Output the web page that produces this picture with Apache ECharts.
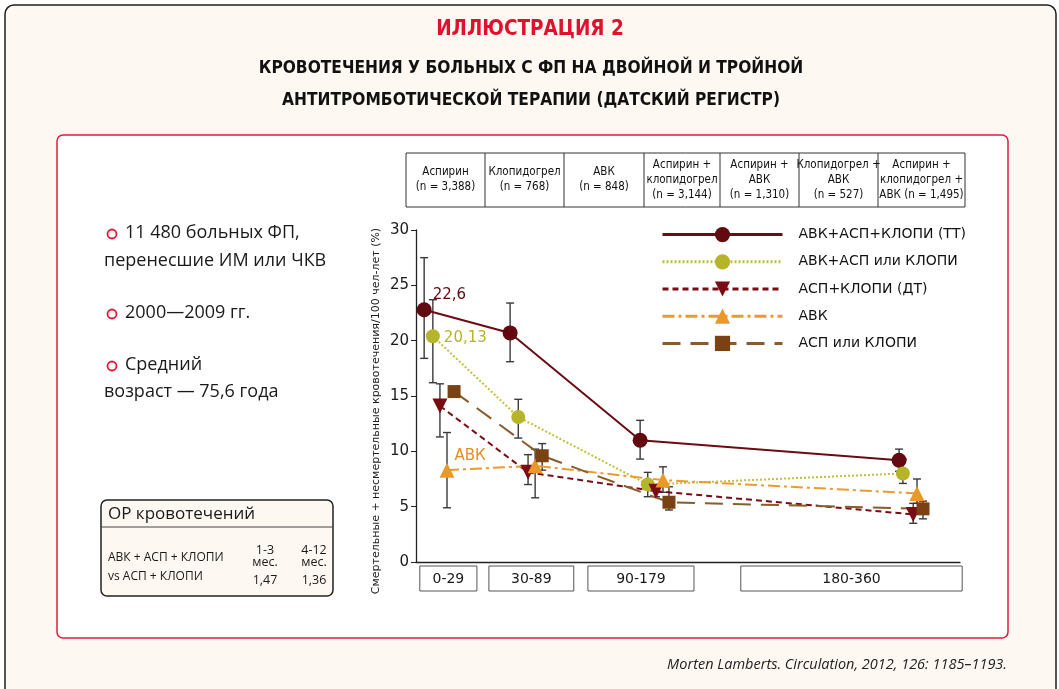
<!DOCTYPE html>
<html><head><meta charset="utf-8">
<script src="https://cdn.jsdelivr.net/npm/echarts@6/dist/echarts.min.js"></script>
<style>html,body{margin:0;padding:0;background:#fff;}#c{width:1059px;height:689px;}</style>
</head><body><div id="c"></div>
<script>
// ---- data ----
const seriesNames = ['АВК+АСП+КЛОПИ (ТТ)', 'АВК+АСП или КЛОПИ', 'АСП+КЛОПИ (ДТ)', 'АВК', 'АСП или КЛОПИ'];
const periods = ['0-29', '30-89', '90-179', '180-360'];
const periodStart = [0.7, 13.4, 31.6, 59.7];
const periodEnd = [11.2, 29.0, 51.1, 100.4];
const yTicks = [0, 5, 10, 15, 20, 25, 30];

// x position (relative units along time axis) and values
const xTT = [1.5, 17.3, 41.2, 88.8];
const vTT = [22.8, 20.7, 11.0, 9.2];
const hiTT = [27.5, 23.4, 12.8, 10.2];
const loTT = [18.4, 18.1, 9.3, 8.2];
const lblTT = ['22,6', '', '', ''];

const xOL = [3.1, 18.8, 42.6, 89.5];
const vOL = [20.4, 13.1, 7.0, 8.0];
const hiOL = [23.7, 14.7, 8.1, 9.3];
const loOL = [16.2, 11.2, 5.9, 7.1];
const lblOL = ['20,13', '', '', ''];

const xDT = [4.4, 20.6, 44.1, 91.4];
const vDT = [14.1, 8.1, 6.4, 4.3];
const hiDT = [16.1, 9.7, 6.9, 5.3];
const loDT = [11.3, 7.0, 5.9, 3.5];
const lblDT = ['', '', '', ''];

const xAV = [5.7, 21.9, 45.4, 92.1];
const vAV = [8.3, 8.7, 7.4, 6.2];
const hiAV = [11.7, 10.2, 8.6, 7.5];
const loAV = [4.9, 5.8, 6.3, 5.3];
const lblAV = ['АВК', '', '', ''];

const xSQ = [7.0, 23.2, 46.5, 93.2];
const vSQ = [15.4, 9.6, 5.4, 4.8];
const hiSQ = [null, 10.7, 6.8, 5.5];
const loSQ = [null, 8.3, 4.7, 3.9];
const lblSQ = ['', '', '', ''];

const tableHeads = [
  ['Аспирин', '(n = 3,388)'],
  ['Клопидогрел', '(n = 768)'],
  ['АВК', '(n = 848)'],
  ['Аспирин +', 'клопидогрел', '(n = 3,144)'],
  ['Аспирин +', 'АВК', '(n = 1,310)'],
  ['Клопидогрел +', 'АВК', '(n = 527)'],
  ['Аспирин +', 'клопидогрел +', 'АВК (n = 1,495)']
];

// ---- styles ----
const FONT = '"DejaVu Sans", Verdana, sans-serif';
const SANS = '"Open Sans", "Noto Sans", sans-serif';
const NARROW = '"Liberation Sans Narrow", "DejaVu Sans Condensed", sans-serif';
const markerColors = ['#620a0f', '#b6b42a', '#7a0c14', '#ea982a', '#7a4212'];
const lineColors = ['#6a0c12', '#c0c03a', '#7a0c14', '#ea9a2e', '#8c5a2c'];
const lineTypes = ['solid', [2, 2], [6, 4], [12, 4, 3, 4], [18, 10]];
const symbols = ['circle', 'circle', 'triangle', 'triangle', 'rect'];
const symRot = [0, 0, 180, 0, 0];
const symSize = [15, 14, 15, 15, 13];
const labelOffsets = [[-4, -15], [-1, 2], [0, 0], [-5, -14], [0, 0]];

const groups = [
  [xTT, vTT, hiTT, loTT, lblTT],
  [xOL, vOL, hiOL, loOL, lblOL],
  [xDT, vDT, hiDT, loDT, lblDT],
  [xAV, vAV, hiAV, loAV, lblAV],
  [xSQ, vSQ, hiSQ, loSQ, lblSQ]
];

const series = [];
groups.forEach((g, si) => {
  const [xs, vs, his, los, lbls] = g;
  series.push({
    type: 'custom', name: seriesNames[si] + '_err', z: 1, silent: true, clip: false,
    data: xs.map((x, i) => [x, los[i], his[i]]).filter(d => d[1] != null),
    renderItem: function (params, api) {
      const top = api.coord([api.value(0), api.value(2)]);
      const bot = api.coord([api.value(0), api.value(1)]);
      const w = 4;
      const st = { stroke: '#3a3a3a', lineWidth: 1.4 };
      return { type: 'group', children: [
        { type: 'line', shape: { x1: top[0], y1: top[1], x2: bot[0], y2: bot[1] }, style: st },
        { type: 'line', shape: { x1: top[0] - w, y1: top[1], x2: top[0] + w, y2: top[1] }, style: st },
        { type: 'line', shape: { x1: bot[0] - w, y1: bot[1], x2: bot[0] + w, y2: bot[1] }, style: st }
      ]};
    }
  });
  series.push({
    type: 'line', name: seriesNames[si], z: 3,
    symbol: symbols[si], symbolSize: symSize[si], symbolRotate: symRot[si],
    itemStyle: { color: markerColors[si] },
    lineStyle: { color: lineColors[si], width: 2, type: lineTypes[si] },
    data: xs.map((x, i) => {
      const d = { value: [x, vs[i]] };
      if (lbls[i]) {
        d.label = { show: true, formatter: lbls[i], position: 'right', offset: labelOffsets[si],
          color: si === 3 ? '#ea8c1c' : markerColors[si], fontSize: 15, fontFamily: FONT };
      }
      return d;
    })
  });
});

// period boxes under axis
series.push({
  type: 'custom', name: 'periods', silent: true, clip: false, z: 1,
  data: periodStart.map((s, i) => [s, periodEnd[i], i]),
  renderItem: function (params, api) {
    const a = api.coord([api.value(0), 0]);
    const b = api.coord([api.value(1), 0]);
    const y = a[1] + 4;
    const h = 25;
    return { type: 'group', children: [
      { type: 'rect', shape: { x: a[0], y: y, width: b[0] - a[0], height: h },
        style: { fill: '#fff', stroke: '#555', lineWidth: 1 } },
      { type: 'text', style: { text: periods[api.value(2)], x: (a[0] + b[0]) / 2, y: y + h / 2 + 1,
        align: 'center', verticalAlign: 'middle', textAlign: 'center', textVerticalAlign: 'middle',
        fill: '#1a1a1a', fontSize: 14, fontFamily: FONT } }
    ]};
  }
});

// ---- graphic (frame, titles, side text, table) ----
const graphics = [];
graphics.push({ type: 'rect', z: -20, shape: { x: 5, y: 5, width: 1051, height: 720, r: 9 },
  style: { fill: '#fdf8f2', stroke: '#1e1e1e', lineWidth: 1.5 } });
graphics.push({ type: 'rect', z: -19, shape: { x: 57, y: 135, width: 951, height: 503, r: 6 },
  style: { fill: '#ffffff', stroke: '#e4183c', lineWidth: 1.5 } });
function txt(text, x, y, opts) {
  graphics.push(Object.assign({ type: 'text', z: 5 }, {
    style: Object.assign({ text: text, x: x, y: y, fill: '#1a1a1a', align: 'left', verticalAlign: 'middle',
      textAlign: 'left', textVerticalAlign: 'middle', fontSize: 14, fontFamily: SANS }, opts)
  }));
}
txt('ИЛЛЮСТРАЦИЯ 2', 530, 30, { align: 'center', textAlign: 'center', fill: '#e0102e', fontSize: 20.5, fontWeight: 'bold', fontFamily: NARROW });
txt('КРОВОТЕЧЕНИЯ У БОЛЬНЫХ С ФП НА ДВОЙНОЙ И ТРОЙНОЙ', 531, 69, { align: 'center', textAlign: 'center', fill: '#111', fontSize: 17.2, fontWeight: 'bold', fontFamily: NARROW });
txt('АНТИТРОМБОТИЧЕСКОЙ ТЕРАПИИ (ДАТСКИЙ РЕГИСТР)', 531, 101, { align: 'center', textAlign: 'center', fill: '#111', fontSize: 17.2, fontWeight: 'bold', fontFamily: NARROW });

// left notes
[[233], [313], [365]].forEach(p => {
  graphics.push({ type: 'circle', z: 5, shape: { cx: 112, cy: p[0] + 1, r: 4.5 }, style: { fill: 'none', stroke: '#e4183c', lineWidth: 1.8 } });
});
txt('11 480 больных ФП,', 125, 233, { fontSize: 18 });
txt('перенесшие ИМ или ЧКВ', 104, 261, { fontSize: 18 });
txt('2000—2009 гг.', 125, 313, { fontSize: 18 });
txt('Средний', 125, 365, { fontSize: 18 });
txt('возраст — 75,6 года', 104, 392, { fontSize: 18 });

// OR box
graphics.push({ type: 'rect', z: 4, shape: { x: 101, y: 500, width: 232, height: 96, r: 6 },
  style: { fill: '#fdf8f2', stroke: '#222', lineWidth: 1.5 } });
graphics.push({ type: 'line', z: 5, shape: { x1: 101, y1: 527, x2: 333, y2: 527 }, style: { stroke: '#444', lineWidth: 1 } });
txt('ОР кровотечений', 108, 514, { fontSize: 17 });
txt('АВК + АСП + КЛОПИ', 108, 558, { fontSize: 12 });
txt('vs АСП + КЛОПИ', 108, 577, { fontSize: 12 });
txt('1-3', 265, 550, { fontSize: 12.5, align: 'center', textAlign: 'center' });
txt('мес.', 265, 562, { fontSize: 12.5, align: 'center', textAlign: 'center' });
txt('1,47', 265, 580, { fontSize: 12.5, align: 'center', textAlign: 'center' });
txt('4-12', 314, 550, { fontSize: 12.5, align: 'center', textAlign: 'center' });
txt('мес.', 314, 562, { fontSize: 12.5, align: 'center', textAlign: 'center' });
txt('1,36', 314, 580, { fontSize: 12.5, align: 'center', textAlign: 'center' });

// citation
txt('Morten Lamberts. Circulation, 2012, 126: 1185–1193.', 1007, 665, { align: 'right', textAlign: 'right', fontSize: 14.5, fontStyle: 'italic', fill: '#222' });

// y axis title
graphics.push({ type: 'text', z: 5, x: 376, y: 411, rotation: Math.PI / 2,
  style: { text: 'Смертельные + несмертельные кровотечения/100 чел-лет (%)', x: 0, y: 0,
    align: 'center', verticalAlign: 'middle', textAlign: 'center', textVerticalAlign: 'middle',
    fill: '#1a1a1a', fontSize: 11, fontFamily: FONT } });

// header table
const colX = [406, 485, 564, 644, 720, 799, 878, 965];
const tTop = 153, tBot = 207;
graphics.push({ type: 'rect', z: 4, shape: { x: colX[0], y: tTop, width: colX[7] - colX[0], height: tBot - tTop },
  style: { fill: '#fff', stroke: '#333', lineWidth: 1 } });
for (let i = 1; i < colX.length - 1; i++) {
  graphics.push({ type: 'line', z: 5, shape: { x1: colX[i], y1: tTop, x2: colX[i], y2: tBot }, style: { stroke: '#333', lineWidth: 1 } });
}
tableHeads.forEach((lines, i) => {
  const cx = (colX[i] + colX[i + 1]) / 2;
  const lh = 15;
  const y0 = (tTop + tBot) / 2 - (lines.length - 1) * lh / 2;
  lines.forEach((l, j) => txt(l, cx, y0 + j * lh, { align: 'center', textAlign: 'center', fontSize: 11.5, fontFamily: NARROW, fill: '#111' }));
});

const chart = echarts.init(document.getElementById('c'), null, { renderer: 'canvas' });
chart.setOption({
  animation: false,
  backgroundColor: '#ffffff',
  graphic: { elements: graphics },
  grid: { left: 416, right: 99, top: 230, bottom: 127, containLabel: false },
  xAxis: { type: 'value', min: 0, max: 100, axisLine: { show: true, lineStyle: { color: '#222', width: 1.3 } },
    axisTick: { show: false }, axisLabel: { show: false }, splitLine: { show: false } },
  yAxis: { type: 'value', min: 0, max: 30, interval: 5,
    axisLine: { show: true, lineStyle: { color: '#222', width: 1.3 } },
    axisTick: { show: true, length: 5, lineStyle: { color: '#222' } },
    axisLabel: { fontSize: 15, fontFamily: FONT, color: '#1a1a1a', margin: 7 },
    splitLine: { show: false } },
  legend: {
    orient: 'vertical', left: 656, top: 222, itemWidth: 120, itemHeight: 19, itemGap: 12,
    data: seriesNames, lineStyle: { width: 3 },
    textStyle: { fontSize: 14, fontFamily: FONT, color: '#111', padding: [0, 0, 0, 11] }
  },
  series: series
});
</script></body></html>
